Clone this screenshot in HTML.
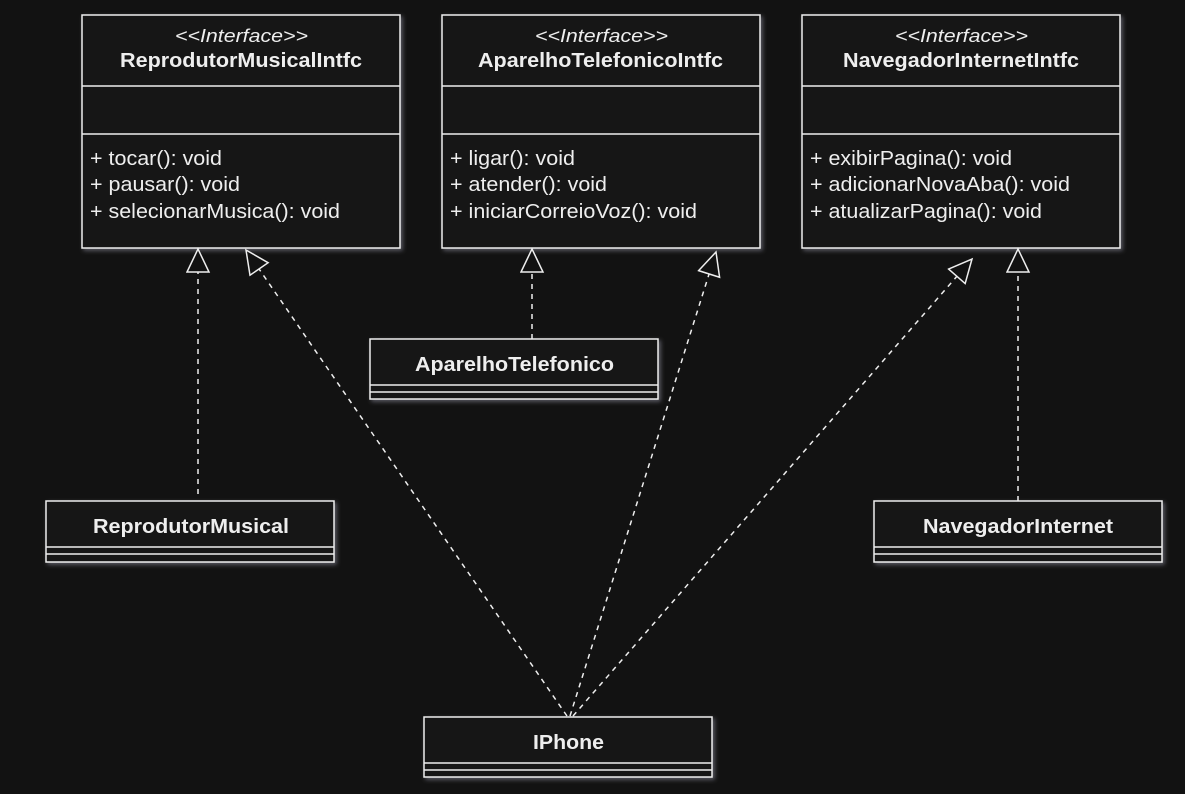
<!DOCTYPE html>
<html><head><meta charset="utf-8">
<style>
html,body{margin:0;padding:0;background:#121212;}
svg{display:block;}
text{font-family:"Liberation Sans",Arial,sans-serif;fill:#eeeeee;}
.st{font-style:italic;font-size:18px;}
.nm{font-weight:bold;font-size:20px;}
.m{font-size:20px;}
</style></head>
<body>
<svg width="1185" height="794" viewBox="0 0 1185 794" xmlns="http://www.w3.org/2000/svg">
<defs>
<filter id="g" x="-10%" y="-10%" width="120%" height="120%">
<feGaussianBlur in="SourceAlpha" stdDeviation="2" result="b"/>
<feFlood flood-color="#8a8a99" flood-opacity="0.6"/>
<feComposite in2="b" operator="in" result="s"/>
<feOffset dx="2" dy="2"/>
<feMerge><feMergeNode/><feMergeNode in="SourceGraphic"/></feMerge>
</filter>
<marker id="t" markerUnits="userSpaceOnUse" markerWidth="30" markerHeight="30" refX="24" refY="12" orient="auto">
<path d="M1,1 L24,12 L1,23 Z" fill="#121212" stroke="#eee" stroke-width="1.5"/>
</marker>
</defs>
<rect width="1185" height="794" fill="#121212"/>

<g fill="#121212" stroke="#eeeeee" stroke-width="1.5" filter="url(#g)">
<rect x="82" y="15" width="318" height="233"/>
<rect x="442" y="15" width="318" height="233"/>
<rect x="802" y="15" width="318" height="233"/>
<rect x="370" y="339" width="288" height="60"/>
<rect x="46" y="501" width="288" height="61"/>
<rect x="874" y="501" width="288" height="61"/>
<rect x="424" y="717" width="288" height="60"/>
</g>
<g stroke="#eeeeee" stroke-width="1.5">
<line x1="82" y1="86" x2="400" y2="86"/><line x1="82" y1="134" x2="400" y2="134"/>
<line x1="442" y1="86" x2="760" y2="86"/><line x1="442" y1="134" x2="760" y2="134"/>
<line x1="802" y1="86" x2="1120" y2="86"/><line x1="802" y1="134" x2="1120" y2="134"/>
<line x1="370" y1="385" x2="658" y2="385"/><line x1="370" y1="392" x2="658" y2="392"/>
<line x1="46" y1="547" x2="334" y2="547"/><line x1="46" y1="554" x2="334" y2="554"/>
<line x1="874" y1="547" x2="1162" y2="547"/><line x1="874" y1="554" x2="1162" y2="554"/>
<line x1="424" y1="763" x2="712" y2="763"/><line x1="424" y1="770" x2="712" y2="770"/>
</g>

<g stroke="#eeeeee" stroke-width="1.5" stroke-dasharray="5,5" fill="none">
<line x1="198" y1="494" x2="198" y2="249" marker-end="url(#t)"/>
<line x1="532" y1="339" x2="532" y2="249" marker-end="url(#t)"/>
<line x1="1018" y1="501" x2="1018" y2="249" marker-end="url(#t)"/>
<line x1="567" y1="716" x2="246" y2="250" marker-end="url(#t)"/>
<line x1="570" y1="716" x2="716" y2="252" marker-end="url(#t)"/>
<line x1="573" y1="716" x2="972" y2="259" marker-end="url(#t)"/>
</g>

<g lengthAdjust="spacingAndGlyphs">
<text class="st" x="175" y="42" textLength="133" lengthAdjust="spacingAndGlyphs">&lt;&lt;Interface&gt;&gt;</text>
<text class="nm" x="120" y="67" textLength="242" lengthAdjust="spacingAndGlyphs">ReprodutorMusicalIntfc</text>
<text class="st" x="535" y="42" textLength="133" lengthAdjust="spacingAndGlyphs">&lt;&lt;Interface&gt;&gt;</text>
<text class="nm" x="478" y="67" textLength="245" lengthAdjust="spacingAndGlyphs">AparelhoTelefonicoIntfc</text>
<text class="st" x="895" y="42" textLength="133" lengthAdjust="spacingAndGlyphs">&lt;&lt;Interface&gt;&gt;</text>
<text class="nm" x="843" y="67" textLength="236" lengthAdjust="spacingAndGlyphs">NavegadorInternetIntfc</text>
<text class="nm" x="415" y="371" textLength="199" lengthAdjust="spacingAndGlyphs">AparelhoTelefonico</text>
<text class="nm" x="93" y="533" textLength="196" lengthAdjust="spacingAndGlyphs">ReprodutorMusical</text>
<text class="nm" x="923" y="533" textLength="190" lengthAdjust="spacingAndGlyphs">NavegadorInternet</text>
<text class="nm" x="533" y="749" textLength="71" lengthAdjust="spacingAndGlyphs">IPhone</text>

<text class="m" x="90" y="165" textLength="132" lengthAdjust="spacingAndGlyphs">+ tocar(): void</text>
<text class="m" x="90" y="191" textLength="150" lengthAdjust="spacingAndGlyphs">+ pausar(): void</text>
<text class="m" x="90" y="218" textLength="250" lengthAdjust="spacingAndGlyphs">+ selecionarMusica(): void</text>
<text class="m" x="450" y="165" textLength="125" lengthAdjust="spacingAndGlyphs">+ ligar(): void</text>
<text class="m" x="450" y="191" textLength="157" lengthAdjust="spacingAndGlyphs">+ atender(): void</text>
<text class="m" x="450" y="218" textLength="247" lengthAdjust="spacingAndGlyphs">+ iniciarCorreioVoz(): void</text>
<text class="m" x="810" y="165" textLength="202" lengthAdjust="spacingAndGlyphs">+ exibirPagina(): void</text>
<text class="m" x="810" y="191" textLength="260" lengthAdjust="spacingAndGlyphs">+ adicionarNovaAba(): void</text>
<text class="m" x="810" y="218" textLength="232" lengthAdjust="spacingAndGlyphs">+ atualizarPagina(): void</text>
</g>
</svg>
</body></html>
